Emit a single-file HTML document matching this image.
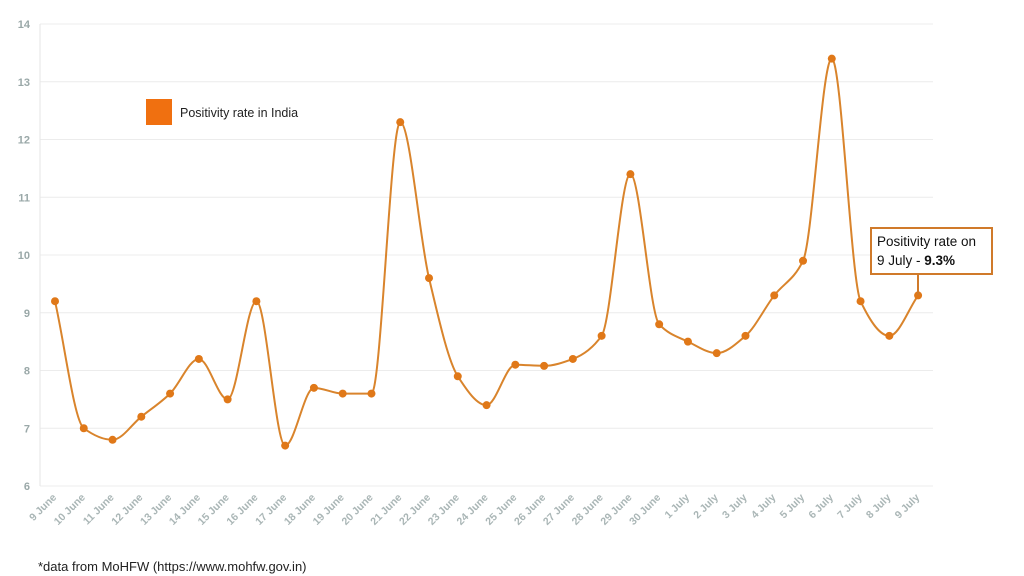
<!DOCTYPE html>
<html><head><meta charset="utf-8"><style>
html,body{margin:0;padding:0;background:#fff;width:1024px;height:576px;overflow:hidden;font-family:"Liberation Sans",sans-serif}
</style></head><body>
<svg id="s" width="1024" height="576" xmlns="http://www.w3.org/2000/svg" style="position:absolute;left:0;top:0">
<g id="grid"></g>
<line x1="40" y1="24" x2="40" y2="486" stroke="#e6e6e6"/>
<rect x="146" y="99" width="26" height="26" fill="#f07010"/>
<text x="180" y="117" font-size="12.5" fill="#222">Positivity rate in India</text>
<path id="p" fill="none" stroke="#d9842c" stroke-width="2"/>
<g id="dots"></g>
<g id="xl"></g>
<line x1="918" y1="274" x2="918" y2="295" stroke="#d07a2a" stroke-width="2"/>
<rect x="871" y="228" width="121" height="46" fill="#fff" stroke="#d07a2a" stroke-width="2"/>
<text x="877" y="246" font-size="13.5" fill="#111">Positivity rate on</text>
<text x="877" y="265" font-size="13.5" fill="#111">9 July - <tspan font-weight="bold">9.3%</tspan></text>
<text x="38" y="571" font-size="13" fill="#222">*data from MoHFW (https://www.mohfw.gov.in)</text>
</svg>
<script>
var v=[9.2,7.0,6.8,7.2,7.6,8.2,7.5,9.2,6.7,7.7,7.6,7.6,12.3,9.6,7.9,7.4,8.1,8.08,8.2,8.6,11.4,8.8,8.5,8.3,8.6,9.3,9.9,13.4,9.2,8.6,9.3];
var lab=["9 June","10 June","11 June","12 June","13 June","14 June","15 June","16 June","17 June","18 June","19 June","20 June","21 June","22 June","23 June","24 June","25 June","26 June","27 June","28 June","29 June","30 June","1 July","2 July","3 July","4 July","5 July","6 July","7 July","8 July","9 July"];
var NS="http://www.w3.org/2000/svg";
function Y(t){return 486-(t-6)*57.75}
function X(i){return 55+i*28.77}
function el(n,a,par,txt){var e=document.createElementNS(NS,n);for(var k in a)e.setAttribute(k,a[k]);if(txt!=null)e.textContent=txt;par.appendChild(e);return e}
var g=document.getElementById('grid');
for(var t=6;t<=14;t++){var y=Y(t);el('line',{x1:40,x2:933,y1:y,y2:y,stroke:'#ececec'},g);el('text',{x:30,y:y+4,'font-size':11,fill:'#9aa8a8','font-weight':'bold','text-anchor':'end'},g,t);}
var xl=document.getElementById('xl');
var pts=v.map(function(t,i){return [X(i),Y(t)]});
for(var i=0;i<pts.length;i++){var x=pts[i][0];el('text',{x:x+2,y:498,'font-size':10.5,fill:'#aab6b6','font-weight':'bold','text-anchor':'end',transform:'rotate(-45 '+(x+2)+' 498)'},xl,lab[i]);}
// monotone cubic (Fritsch-Carlson)
var n=pts.length,h=28.77,s=[],m=[];
for(var i=0;i<n-1;i++)s.push((pts[i+1][1]-pts[i][1])/h);
m[0]=s[0];m[n-1]=s[n-2];
for(var i=1;i<n-1;i++){if(s[i-1]*s[i]<=0)m[i]=0;else{var a=s[i-1],b=s[i];m[i]=(Math.sign(a))*Math.min(Math.abs(a),Math.abs(b),0.5*Math.abs((a+b)/2)*2>0?Math.abs((a+b)/2):0);m[i]=2*a*b/(a+b);}}
var d='M'+pts[0][0]+','+pts[0][1];
for(var i=0;i<n-1;i++){var p1=pts[i],p2=pts[i+1];
d+=' C'+(p1[0]+h/3)+','+(p1[1]+m[i]*h/3)+' '+(p2[0]-h/3)+','+(p2[1]-m[i+1]*h/3)+' '+p2[0]+','+p2[1];}
document.getElementById('p').setAttribute('d',d);
var dg=document.getElementById('dots');
pts.forEach(function(p){el('circle',{cx:p[0],cy:p[1],r:4,fill:'#e07818'},dg)});
</script>
</body></html>
